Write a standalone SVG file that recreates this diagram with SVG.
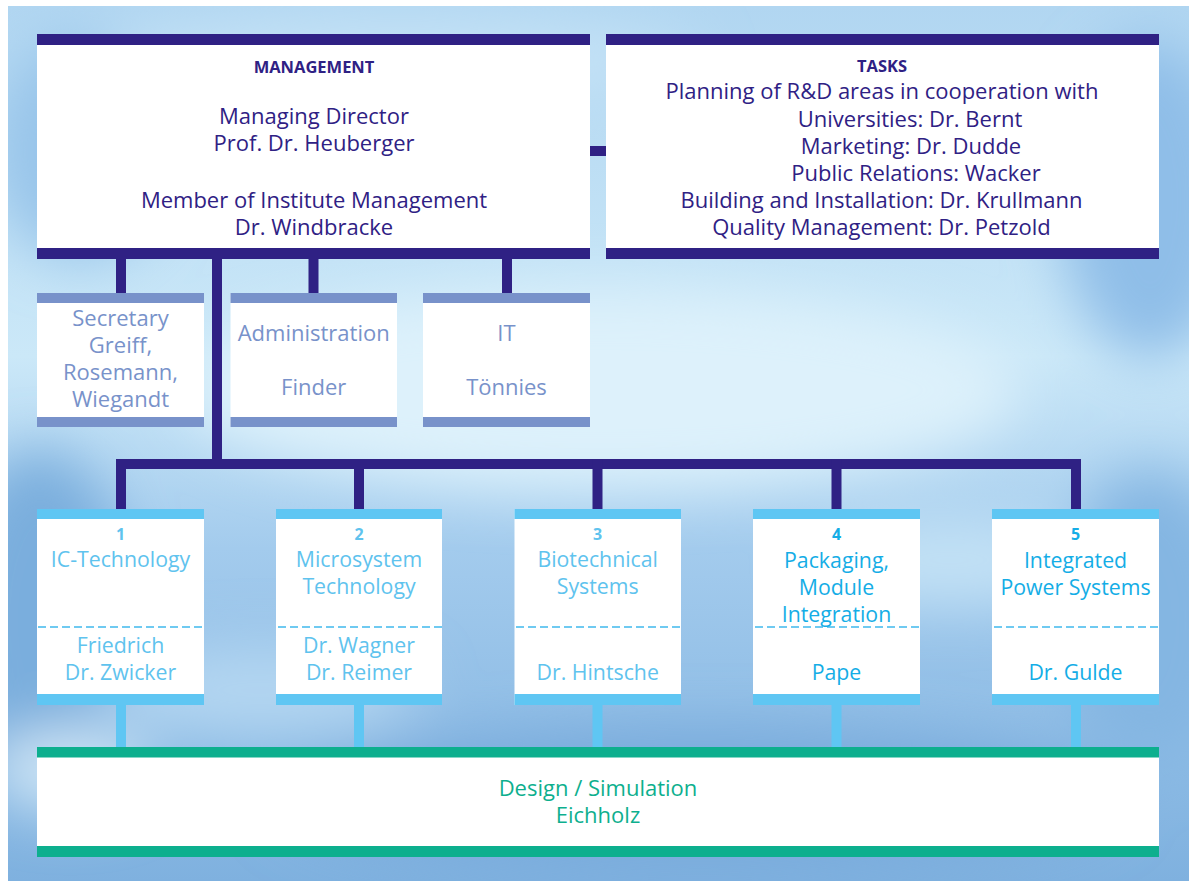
<svg xmlns="http://www.w3.org/2000/svg" width="1193" height="881" viewBox="0 0 1193 881">
<defs>
<linearGradient id="bgG" x1="0" y1="0" x2="0" y2="1">
<stop offset="0" stop-color="#b1d6f1"/>
<stop offset="0.4" stop-color="#cbe8f8"/>
<stop offset="0.62" stop-color="#a3cbed"/>
<stop offset="1" stop-color="#7fb1df"/>
</linearGradient>
<filter id="blur" x="-50%" y="-50%" width="200%" height="200%"><feGaussianBlur stdDeviation="28"/></filter>
<clipPath id="bgClip"><rect x="8" y="6" width="1181" height="875"/></clipPath>
<style>
.t{font-family:"Open Sans","Noto Sans","Liberation Sans",sans-serif;text-anchor:middle}
.nav{fill:#2f2184}
.navt{fill:#2f2184;font-size:22px}
.navb{fill:#2f2184;font-size:16.5px;font-weight:bold}
.adm{fill:#7892ca}
.admt{fill:#7892ca;font-size:22px}
.bar{fill:#5fc6f3}
.dl{fill:#5fc3ee;font-size:21.3px}
.dd{fill:#14ade6;font-size:21.3px}
.num{font-size:16px;font-weight:bold}
.box{fill:#ffffff}
.dash{stroke:#6fcaf1;stroke-width:2;stroke-dasharray:8 4;fill:none}
.teal{fill:#0daf8e}
.tealt{fill:#0daf8e;font-size:22px}
</style>
</defs>
<rect width="1193" height="881" fill="#ffffff"/>
<g clip-path="url(#bgClip)">
<rect x="8" y="6" width="1181" height="875" fill="url(#bgG)"/>
<g filter="url(#blur)">
<ellipse cx="600" cy="390" rx="420" ry="100" fill="#ddf1fb"/>
<ellipse cx="80" cy="150" rx="90" ry="110" fill="#98c5ea"/>
<ellipse cx="1150" cy="200" rx="90" ry="160" fill="#8fbee8"/>
<ellipse cx="40" cy="620" rx="90" ry="170" fill="#7aaedd"/>
<ellipse cx="1150" cy="620" rx="90" ry="150" fill="#84b6e2"/>
<ellipse cx="700" cy="800" rx="420" ry="70" fill="#79abdc"/>
<ellipse cx="70" cy="770" rx="80" ry="40" fill="#cfe6f6"/>
<ellipse cx="260" cy="690" rx="160" ry="45" fill="#b3d6f1"/>
<ellipse cx="950" cy="560" rx="140" ry="45" fill="#c2e1f5"/>
<ellipse cx="400" cy="60" rx="300" ry="40" fill="#c4e2f6"/>
</g>
</g>

<g id="connectors">
<rect class="nav" x="590" y="146" width="16" height="10"/>
<rect class="nav" x="116" y="259" width="10" height="34"/>
<rect class="nav" x="308.5" y="259" width="10" height="34"/>
<rect class="nav" x="502" y="259" width="10" height="34"/>
<rect class="nav" x="212" y="259" width="10" height="210"/>
<rect class="nav" x="116" y="459" width="965" height="10"/>
<rect class="nav" x="116" y="459" width="10" height="50"/>
<rect class="nav" x="354" y="459" width="10" height="50"/>
<rect class="nav" x="592.5" y="459" width="10" height="50"/>
<rect class="nav" x="831.5" y="459" width="10" height="50"/>
<rect class="nav" x="1071" y="459" width="10" height="50"/>
<rect class="bar" x="116" y="705" width="10" height="42"/>
<rect class="bar" x="354" y="705" width="10" height="42"/>
<rect class="bar" x="592.5" y="705" width="10" height="42"/>
<rect class="bar" x="831.5" y="705" width="10" height="42"/>
<rect class="bar" x="1071" y="705" width="10" height="42"/>
</g>

<g id="management">
<rect class="box" x="37" y="34" width="553" height="225"/>
<rect class="nav" x="37" y="34" width="553" height="11"/>
<rect class="nav" x="37" y="248" width="553" height="11"/>
<text class="t navb" x="314" y="73">MANAGEMENT</text>
<text class="t navt" x="314" y="124">Managing Director</text>
<text class="t navt" x="314" y="151">Prof. Dr. Heuberger</text>
<text class="t navt" x="314" y="208">Member of Institute Management</text>
<text class="t navt" x="314" y="235">Dr. Windbracke</text>
</g>

<g id="tasks">
<rect class="box" x="606" y="34" width="553" height="225"/>
<rect class="nav" x="606" y="34" width="553" height="11"/>
<rect class="nav" x="606" y="248" width="553" height="11"/>
<text class="t navb" x="882" y="72">TASKS</text>
<text class="t navt" x="882" y="99">Planning of R&amp;D areas in cooperation with</text>
<text class="t navt" x="910" y="127">Universities: Dr. Bernt</text>
<text class="t navt" x="911" y="154">Marketing: Dr. Dudde</text>
<text class="t navt" x="916" y="181">Public Relations: Wacker</text>
<text class="t navt" x="881.5" y="208">Building and Installation: Dr. Krullmann</text>
<text class="t navt" x="881.5" y="235">Quality Management: Dr. Petzold</text>
</g>

<g id="secretary">
<rect class="box" x="37" y="293" width="167" height="134"/>
<rect class="adm" x="37" y="293" width="167" height="10"/>
<rect class="adm" x="37" y="417" width="167" height="10"/>
<text class="t admt" x="120.5" y="326">Secretary</text>
<text class="t admt" x="120.5" y="353">Greiff,</text>
<text class="t admt" x="120.5" y="380">Rosemann,</text>
<text class="t admt" x="120.5" y="407">Wiegandt</text>
</g>

<g id="administration">
<rect class="box" x="230.5" y="293" width="166.5" height="134"/>
<rect class="adm" x="230.5" y="293" width="166.5" height="10"/>
<rect class="adm" x="230.5" y="417" width="166.5" height="10"/>
<text class="t admt" x="313.7" y="341">Administration</text>
<text class="t admt" x="313.7" y="395">Finder</text>
</g>

<g id="it">
<rect class="box" x="423" y="293" width="167" height="134"/>
<rect class="adm" x="423" y="293" width="167" height="10"/>
<rect class="adm" x="423" y="417" width="167" height="10"/>
<text class="t admt" x="506.5" y="341">IT</text>
<text class="t admt" x="506.5" y="395">Tönnies</text>
</g>

<g id="dept1">
<rect class="box" x="37" y="509" width="167" height="196"/>
<rect class="bar" x="37" y="509" width="167" height="10"/>
<rect class="bar" x="37" y="694" width="167" height="11"/>
<line class="dash" x1="38" y1="627" x2="204" y2="627"/>
<text class="t dl num" x="120.5" y="540">1</text>
<text class="t dl" x="120.5" y="567">IC-Technology</text>
<text class="t dl" x="120.5" y="653">Friedrich</text>
<text class="t dl" x="120.5" y="680">Dr. Zwicker</text>
</g>

<g id="dept2">
<rect class="box" x="276" y="509" width="166" height="196"/>
<rect class="bar" x="276" y="509" width="166" height="10"/>
<rect class="bar" x="276" y="694" width="166" height="11"/>
<line class="dash" x1="278" y1="627" x2="442" y2="627"/>
<text class="t dl num" x="359" y="540">2</text>
<text class="t dl" x="359" y="567">Microsystem</text>
<text class="t dl" x="359" y="594">Technology</text>
<text class="t dl" x="359" y="653">Dr. Wagner</text>
<text class="t dl" x="359" y="680">Dr. Reimer</text>
</g>

<g id="dept3">
<rect class="box" x="514.5" y="509" width="166.5" height="196"/>
<rect class="bar" x="514.5" y="509" width="166.5" height="10"/>
<rect class="bar" x="514.5" y="694" width="166.5" height="11"/>
<line class="dash" x1="516" y1="627" x2="681" y2="627"/>
<text class="t dl num" x="597.7" y="540">3</text>
<text class="t dl" x="597.7" y="567">Biotechnical</text>
<text class="t dl" x="597.7" y="594">Systems</text>
<text class="t dl" x="597.7" y="680">Dr. Hintsche</text>
</g>

<g id="dept4">
<rect class="box" x="753" y="509" width="167" height="196"/>
<rect class="bar" x="753" y="509" width="167" height="10"/>
<rect class="bar" x="753" y="694" width="167" height="11"/>
<line class="dash" x1="755" y1="627" x2="920" y2="627"/>
<text class="t dd num" x="836.5" y="540">4</text>
<text class="t dd" x="836.5" y="568">Packaging,</text>
<text class="t dd" x="836.5" y="595">Module</text>
<text class="t dd" x="836.5" y="622">Integration</text>
<text class="t dd" x="836.5" y="680">Pape</text>
</g>

<g id="dept5">
<rect class="box" x="992" y="509" width="167" height="196"/>
<rect class="bar" x="992" y="509" width="167" height="10"/>
<rect class="bar" x="992" y="694" width="167" height="11"/>
<line class="dash" x1="994" y1="627" x2="1159" y2="627"/>
<text class="t dd num" x="1075.5" y="540">5</text>
<text class="t dd" x="1075.5" y="568">Integrated</text>
<text class="t dd" x="1075.5" y="595">Power Systems</text>
<text class="t dd" x="1075.5" y="680">Dr. Gulde</text>
</g>

<g id="design">
<rect class="box" x="37" y="747" width="1122" height="110"/>
<rect class="teal" x="37" y="747" width="1122" height="10.5"/>
<rect class="teal" x="37" y="846" width="1122" height="11"/>
<text class="t tealt" x="598" y="796">Design / Simulation</text>
<text class="t tealt" x="598" y="823">Eichholz</text>
</g>
</svg>
